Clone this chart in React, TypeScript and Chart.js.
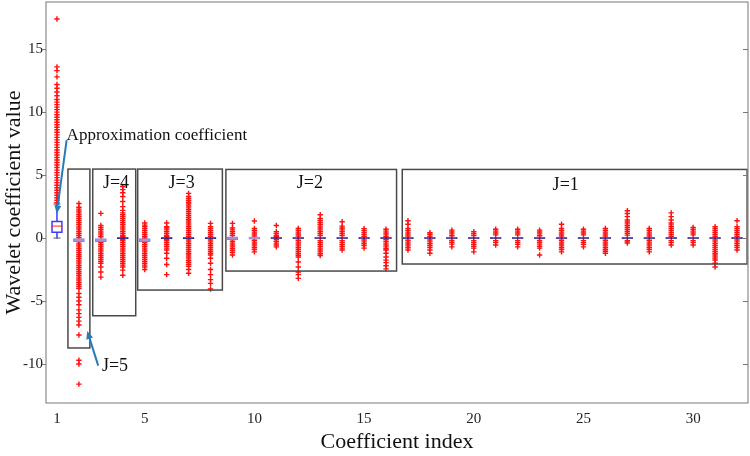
import React, { useEffect, useRef } from 'react';
import { Chart, registerables } from 'chart.js';
Chart.register(...registerables);

const coefficientIndex = [1, 2, 3, 4, 5, 6, 7, 8, 9, 10, 11, 12, 13, 14, 15, 16, 17, 18, 19, 20, 21, 22, 23, 24, 25, 26, 27, 28, 29, 30, 31, 32];
const xTicks = [1, 5, 10, 15, 20, 25, 30];
const yTicks = [-10, -5, 0, 5, 10, 15];

const boxLow = [0.42, -0.28, -0.28, -0.04, -0.28, -0.04, -0.04, -0.04, -0.12, -0.08, -0.03, -0.03, -0.03, -0.03, -0.03, -0.03, -0.03, -0.03, -0.03, -0.03, -0.03, -0.03, -0.03, -0.03, -0.03, -0.03, -0.03, -0.03, -0.03, -0.03, -0.03, -0.03];
const boxHigh = [1.37, -0.05, -0.05, 0.04, -0.05, 0.04, 0.04, 0.04, 0.1, 0.08, 0.03, 0.03, 0.03, 0.03, 0.03, 0.03, 0.03, 0.03, 0.03, 0.03, 0.03, 0.03, 0.03, 0.03, 0.03, 0.03, 0.03, 0.03, 0.03, 0.03, 0.03, 0.03];
const medians = [0.95, -0.16, -0.16, 0, -0.16, 0, 0, 0, -0.01, 0, 0, 0, 0, 0, 0, 0, 0, 0, 0, 0, 0, 0, 0, 0, 0, 0, 0, 0, 0, 0, 0, 0];
const whiskerLow: (number | null)[] = [0.0, null, null, null, null, null, null, null, null, null, null, null, null, null, null, null, null, null, null, null, null, null, null, null, null, null, null, null, null, null, null, null];
const whiskerHigh: (number | null)[] = [2.7, null, null, null, null, null, null, null, null, null, null, null, null, null, null, null, null, null, null, null, null, null, null, null, null, null, null, null, null, null, null, null];

const outliers: number[][] = [
  [17.4, 13.6, 13.3, 12.8, 12.2, 11.9, 11.6, 11.3, 11.0, 10.8, 10.6, 10.4, 10.2, 10.0, 9.8, 9.6, 9.4, 9.2, 9.0, 8.8, 8.6, 8.4, 8.2, 8.0, 7.8, 7.6, 7.4, 7.2, 7.0, 6.8, 6.6, 6.4, 6.2, 6.0, 5.8, 5.6, 5.4, 5.2, 5.0, 4.8, 4.6, 4.4, 4.2, 4.0, 3.8, 3.6, 3.4, 3.2, 3.0, 2.8],
  [2.75, 2.45, 2.3, 2.15, 2.0, 1.85, 1.7, 1.55, 1.4, 1.25, 1.1, 0.95, 0.8, 0.65, 0.5, 0.35, 0.2, 0.05, -0.4, -0.55, -0.7, -0.85, -1.0, -1.15, -1.3, -1.45, -1.6, -1.75, -1.9, -2.05, -2.2, -2.35, -2.5, -2.65, -2.8, -2.95, -3.1, -3.25, -3.4, -3.55, -3.7, -3.85, -4.0, -4.4, -4.7, -5.0, -5.3, -5.7, -6.0, -6.3, -6.6, -6.9, -7.7, -9.7, -10.0, -11.6],
  [1.96, 1.0, 0.85, 0.7, 0.55, 0.4, 0.25, 0.1, -0.35, -0.5, -0.65, -0.8, -0.95, -1.1, -1.25, -1.4, -1.55, -1.7, -1.85, -2.0, -2.3, -2.7, -3.1],
  [4.1, 3.85, 3.6, 3.3, 2.9, 2.5, 2.2, 2.0, 1.85, 1.7, 1.55, 1.4, 1.25, 1.1, 0.95, 0.8, 0.65, 0.5, 0.35, 0.2, 0.1, -0.1, -0.2, -0.35, -0.5, -0.65, -0.8, -0.95, -1.1, -1.25, -1.4, -1.55, -1.7, -1.85, -2.0, -2.15, -2.3, -2.55, -2.95],
  [1.2, 1.03, 0.9, 0.75, 0.6, 0.45, 0.3, 0.15, 0.0, -0.35, -0.5, -0.65, -0.8, -0.95, -1.1, -1.25, -1.4, -1.55, -1.7, -1.85, -2.0, -2.15, -2.3, -2.5],
  [1.2, 0.9, 0.8, 0.65, 0.5, 0.35, 0.2, 0.1, -0.1, -0.2, -0.35, -0.5, -0.65, -0.8, -0.95, -1.2, -1.6, -2.1, -2.9],
  [3.55, 3.3, 3.15, 3.0, 2.85, 2.7, 2.55, 2.4, 2.25, 2.1, 1.95, 1.8, 1.65, 1.5, 1.35, 1.2, 1.05, 0.9, 0.75, 0.6, 0.45, 0.3, 0.15, -0.15, -0.3, -0.45, -0.6, -0.75, -0.9, -1.05, -1.2, -1.35, -1.5, -1.65, -1.8, -1.95, -2.1, -2.25, -2.5, -2.8],
  [1.17, 0.9, 0.75, 0.6, 0.45, 0.3, 0.15, -0.15, -0.3, -0.45, -0.6, -0.75, -0.9, -1.05, -1.2, -1.35, -1.6, -2.0, -2.5, -2.9, -3.3, -3.6, -4.05],
  [1.17, 0.8, 0.65, 0.5, 0.35, 0.2, -0.25, -0.4, -0.55, -0.7, -0.85, -1.0, -1.15, -1.35],
  [1.35, 0.77, 0.62, 0.47, 0.32, 0.17, -0.17, -0.32, -0.47, -0.62, -0.77, -0.92, -1.1],
  [1.0, 0.5, 0.35, 0.2, 0.1, -0.1, -0.25, -0.4, -0.55, -0.7],
  [0.77, 0.62, 0.47, 0.32, 0.17, -0.17, -0.32, -0.47, -0.62, -0.77, -0.92, -1.07, -1.22, -1.37, -1.5, -1.9, -2.3, -2.7, -2.9, -3.2],
  [1.85, 1.55, 1.4, 1.25, 1.1, 0.95, 0.8, 0.65, 0.5, 0.35, 0.2, -0.2, -0.35, -0.5, -0.65, -0.8, -0.95, -1.1, -1.25, -1.38],
  [1.3, 0.95, 0.8, 0.65, 0.5, 0.35, 0.2, -0.2, -0.35, -0.5, -0.65, -0.8, -0.95],
  [0.75, 0.6, 0.45, 0.3, 0.15, -0.15, -0.3, -0.45, -0.6, -0.8],
  [0.7, 0.55, 0.4, 0.25, 0.1, -0.1, -0.25, -0.4, -0.55, -0.7, -0.85, -0.95, -1.2, -1.5, -1.75, -1.95, -2.2, -2.45],
  [1.37, 1.1, 0.77, 0.62, 0.47, 0.32, 0.17, -0.17, -0.32, -0.47, -0.62, -0.77, -0.95],
  [0.42, 0.3, 0.15, -0.15, -0.3, -0.45, -0.6, -0.75, -0.95, -1.2],
  [0.63, 0.48, 0.33, 0.18, -0.18, -0.33, -0.48, -0.7],
  [0.5, 0.35, 0.2, -0.2, -0.35, -0.5, -0.65, -0.8, -1.1],
  [0.7, 0.55, 0.4, 0.25, -0.2, -0.35, -0.55],
  [0.7, 0.55, 0.4, 0.25, -0.2, -0.35, -0.5, -0.7],
  [0.63, 0.48, 0.33, 0.18, -0.18, -0.33, -0.48, -0.65, -0.8, -1.35],
  [1.1, 0.77, 0.62, 0.47, 0.32, 0.17, -0.17, -0.32, -0.47, -0.62, -0.77, -0.92, -1.1],
  [0.7, 0.55, 0.4, 0.25, -0.2, -0.35, -0.5, -0.7],
  [0.77, 0.62, 0.47, 0.32, 0.17, -0.17, -0.32, -0.47, -0.62, -0.77, -0.92, -1.05, -1.2],
  [2.17, 1.95, 1.7, 1.43, 1.28, 1.13, 0.98, 0.83, 0.68, 0.53, 0.38, 0.23, -0.2, -0.3, -0.4],
  [0.77, 0.62, 0.47, 0.32, 0.17, -0.17, -0.32, -0.47, -0.62, -0.77, -0.92, -1.1],
  [2.0, 1.7, 1.43, 1.2, 1.05, 0.9, 0.75, 0.6, 0.45, 0.3, 0.15, -0.2, -0.35, -0.55],
  [0.85, 0.7, 0.55, 0.4, 0.25, -0.2, -0.35, -0.55],
  [0.9, 0.75, 0.6, 0.45, 0.3, 0.15, -0.15, -0.3, -0.45, -0.6, -0.75, -0.9, -1.05, -1.2, -1.35, -1.5, -1.65, -1.75, -2.0, -2.3],
  [1.37, 0.9, 0.75, 0.6, 0.45, 0.3, 0.15, -0.15, -0.3, -0.45, -0.6, -0.75, -0.95],
];

// Decomposition-level groups (annotation boxes)
const levelNames = ['J=5', 'J=4', 'J=3', 'J=2', 'J=1'];
const levelStart = [1.5, 2.63, 4.68, 8.7, 16.74];
const levelEnd = [2.5, 4.59, 8.54, 16.48, 32.46];
const levelTop = [5.48, 5.48, 5.48, 5.45, 5.45];
const levelBottom = [-8.73, -6.17, -4.13, -2.62, -2.06];

const labelText = ['J=4', 'J=3', 'J=2', 'J=1', 'J=5', 'Approximation coefficient'];
const labelX = [3.69, 6.68, 12.53, 24.19, 3.05, 1.44];
const labelY = [4.37, 4.37, 4.37, 4.2, -10.2, 8.17];

const arrowFromX = [1.44, 2.88];
const arrowFromY = [7.78, -10.13];
const arrowToX = [0.99, 2.38];
const arrowToY = [1.96, -7.38];

const SERIF = '"Liberation Serif", "Times New Roman", serif';

const boxBorder = (i: number) => {
  const h = boxHigh[i] - boxLow[i];
  if (h > 0.5) return '#3d3dff';
  if (h > 0.15) return '#8d7fd4';
  return '#2c1f8c';
};
const boxFill = (i: number) => {
  const h = boxHigh[i] - boxLow[i];
  if (h > 0.5) return 'rgba(255,255,255,0)';
  if (h > 0.15) return '#ab9de2';
  return '#2c1f8c';
};
const medianColor = (i: number) => {
  const h = boxHigh[i] - boxLow[i];
  if (h > 0.5) return '#ff2020';
  if (h > 0.15) return '#9a8cd9';
  return '#2c1f8c';
};

const decorPlugin = {
  id: 'decor',
  afterDatasetsDraw(chart: any) {
    const { ctx, chartArea: a, scales } = chart;
    const x = scales.x;
    const y = scales.y;
    ctx.save();
    ctx.strokeStyle = '#4a4a4a';
    ctx.lineWidth = 1.5;
    for (let i = 0; i < levelNames.length; i++) {
      const x0 = x.getPixelForValue(levelStart[i]);
      const x1 = x.getPixelForValue(levelEnd[i]);
      const y0 = y.getPixelForValue(levelTop[i]);
      const y1 = y.getPixelForValue(levelBottom[i]);
      ctx.strokeRect(x0, y0, x1 - x0, y1 - y0);
    }
    ctx.fillStyle = '#111';
    ctx.textBaseline = 'middle';
    for (let i = 0; i < labelText.length; i++) {
      const px = x.getPixelForValue(labelX[i]);
      const py = y.getPixelForValue(labelY[i]);
      const isLevel = i < 4;
      ctx.font = (labelText[i].length > 5 ? '17px ' : '18px ') + SERIF;
      ctx.textAlign = isLevel ? 'center' : 'left';
      ctx.fillText(labelText[i], px, py);
    }
    ctx.strokeStyle = '#2a79b8';
    ctx.fillStyle = '#2a79b8';
    ctx.lineWidth = 2;
    for (let i = 0; i < arrowFromX.length; i++) {
      const sx = x.getPixelForValue(arrowFromX[i]);
      const sy = y.getPixelForValue(arrowFromY[i]);
      const ex = x.getPixelForValue(arrowToX[i]);
      const ey = y.getPixelForValue(arrowToY[i]);
      const ang = Math.atan2(ey - sy, ex - sx);
      const hl = 8, hw = 3.5;
      const bx = ex - hl * Math.cos(ang);
      const by = ey - hl * Math.sin(ang);
      ctx.beginPath();
      ctx.moveTo(sx, sy);
      ctx.lineTo(bx, by);
      ctx.stroke();
      ctx.beginPath();
      ctx.moveTo(ex, ey);
      ctx.lineTo(bx + hw * Math.sin(ang), by - hw * Math.cos(ang));
      ctx.lineTo(bx - hw * Math.sin(ang), by + hw * Math.cos(ang));
      ctx.closePath();
      ctx.fill();
    }
    ctx.strokeStyle = '#8c8c8c';
    ctx.lineWidth = 1.2;
    ctx.strokeRect(a.left, a.top, a.right - a.left, a.bottom - a.top);
    ctx.lineWidth = 1;
    ctx.strokeStyle = '#777';
    for (const v of yTicks) {
      const py = Math.round(y.getPixelForValue(v)) + 0.5;
      ctx.beginPath();
      ctx.moveTo(a.left - 4, py);
      ctx.lineTo(a.left, py);
      ctx.moveTo(a.right - 5, py);
      ctx.lineTo(a.right, py);
      ctx.stroke();
    }
    ctx.restore();
  },
};

export default function App() {
  const ref = useRef<HTMLCanvasElement | null>(null);
  useEffect(() => {
    document.body.style.margin = '0';
    const outlierPoints: { x: number; y: number }[] = [];
    outliers.forEach((arr, i) => arr.forEach((v) => outlierPoints.push({ x: coefficientIndex[i], y: v })));
    const whiskerBars: any[] = [];
    const capPoints: any[] = [];
    coefficientIndex.forEach((c, i) => {
      const lo = whiskerLow[i];
      const hi = whiskerHigh[i];
      if (lo !== null && hi !== null) {
        whiskerBars.push({ x: c, y: [lo, boxLow[i]] });
        whiskerBars.push({ x: c, y: [boxHigh[i], hi] });
        capPoints.push({ x: c, y: lo });
        capPoints.push({ x: c, y: hi });
      }
    });
    const chart = new Chart(ref.current as HTMLCanvasElement, {
      type: 'bar',
      data: {
        datasets: [
          {
            type: 'scatter',
            data: outlierPoints,
            pointStyle: 'cross',
            radius: 2.7,
            borderWidth: 1.4,
            borderColor: '#ff1010',
            backgroundColor: '#ff1010',
            order: 5,
          } as any,
          {
            type: 'bar',
            data: whiskerBars,
            barThickness: 1,
            backgroundColor: '#4a4aff',
            borderWidth: 0,
            order: 4,
            grouped: false,
          } as any,
          {
            type: 'scatter',
            data: capPoints,
            pointStyle: 'line',
            radius: 3.5,
            borderWidth: 1,
            borderColor: '#555',
            order: 3,
          } as any,
          {
            type: 'bar',
            data: coefficientIndex.map((c, i) => ({ x: c, y: [boxLow[i], boxHigh[i]] })),
            barThickness: 11,
            borderWidth: 1,
            borderSkipped: false,
            borderColor: coefficientIndex.map((_, i) => boxBorder(i)),
            backgroundColor: coefficientIndex.map((_, i) => boxFill(i)),
            order: 2,
            grouped: false,
          } as any,
          {
            type: 'scatter',
            data: coefficientIndex.map((c, i) => ({ x: c, y: medians[i] })),
            pointStyle: 'line',
            radius: 5.5,
            borderWidth: 1,
            borderColor: coefficientIndex.map((_, i) => medianColor(i)),
            order: 1,
          } as any,
        ],
      },
      options: {
        animation: false,
        responsive: true,
        maintainAspectRatio: false,
        layout: { autoPadding: false, padding: { top: 2, right: 2, left: 0, bottom: 0 } },
        plugins: { legend: { display: false }, tooltip: { enabled: false } },
        scales: {
          x: {
            type: 'linear',
            min: 0.5,
            max: 32.5,
            offset: false,
            grid: { display: false, drawTicks: false, tickLength: 0 },
            border: { display: false },
            ticks: { font: { family: SERIF, size: 15 }, color: '#222', padding: 7, maxRotation: 0 },
            afterBuildTicks: (s: any) => { s.ticks = xTicks.map((v) => ({ value: v })); },
            afterFit: (s: any) => { s.height = 53; s.paddingLeft = 0; s.paddingRight = 0; },
            title: { display: true, text: 'Coefficient index', font: { family: SERIF, size: 22 }, color: '#111', padding: { top: 0, bottom: 1 } },
          },
          y: {
            type: 'linear',
            min: -13.1,
            max: 18.75,
            grid: { display: false, drawTicks: false, tickLength: 0 },
            border: { display: false },
            ticks: { font: { family: SERIF, size: 15 }, color: '#222', padding: 3 },
            afterBuildTicks: (s: any) => { s.ticks = yTicks.map((v) => ({ value: v })); },
            afterFit: (s: any) => { s.width = 46; s.paddingTop = 0; s.paddingBottom = 0; },
            title: { display: true, text: 'Wavelet coefficient value', font: { family: SERIF, size: 22 }, color: '#111', padding: { top: 1, bottom: 0 } },
          },
        },
      } as any,
      plugins: [decorPlugin],
    });
    return () => chart.destroy();
  }, []);
  return (
    <div style={{ position: 'absolute', left: 0, top: 0, width: 750, height: 456 }}>
      <canvas ref={ref} />
    </div>
  );
}
